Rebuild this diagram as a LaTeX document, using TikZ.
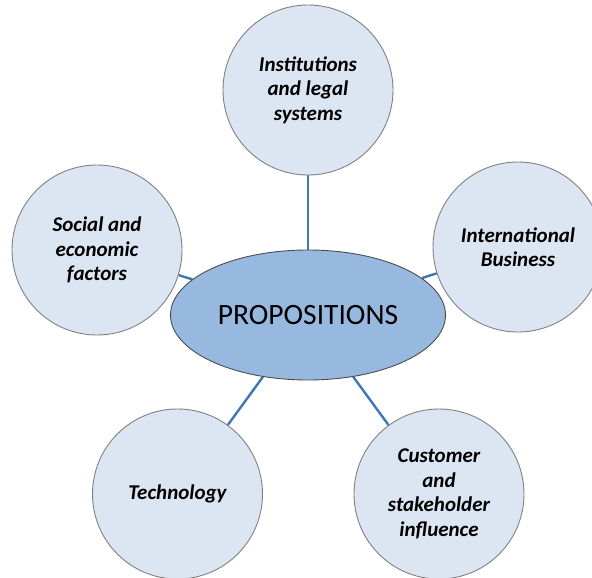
\documentclass[tikz,border=0pt]{standalone}
\usepackage{fontspec}
\setmainfont{Carlito}
\usetikzlibrary{shapes.geometric,backgrounds}
\definecolor{satfill}{HTML}{DCE6F2}
\definecolor{hubfill}{HTML}{97B9E0}
\definecolor{linkblue}{HTML}{4177B0}
\definecolor{rimgrey}{HTML}{808080}
\begin{document}
\begin{tikzpicture}[x=1pt,y=-1pt,
  satellite/.style={circle, draw=rimgrey, line width=0.9pt, fill=satfill,
    minimum size=170pt, inner sep=0pt, align=center,
    font=\fontsize{21}{24.5}\selectfont\bfseries\itshape},
  hub/.style={ellipse, draw=black!70, line width=0.9pt, fill=hubfill,
    minimum width=275pt, minimum height=130pt, inner sep=0pt,
    font=\fontsize{29.5}{34}\selectfont},
  link/.style={draw=linkblue, line width=2.4pt}]
\useasboundingbox (0,0) rectangle (592,578);
\clip (0,0) rectangle (592,578);

% outer topics
\node[satellite] (inst)  at (308,90)    {Institutions\\and legal\\systems};
\node[satellite] (soc)   at (97,250)    {Social and\\economic\\factors};
\node[satellite] (intl)  at (518,247)   {International\\Business};
\node[satellite] (tech)  at (177.5,494) {Technology};
\node[satellite] (cust)  at (439,494)   {Customer\\and\\stakeholder\\influence};

% central topic
\node[hub] (hub) at (308,315) {PROPOSITIONS};

% spokes behind the shapes
\begin{pgfonlayer}{background}
  \draw[link] (hub) -- (inst);
  \draw[link] (hub) -- (soc);
  \draw[link] (hub) -- (intl);
  \draw[link] (hub) -- (tech);
  \draw[link] (hub) -- (cust);
\end{pgfonlayer}
\end{tikzpicture}
\end{document}
